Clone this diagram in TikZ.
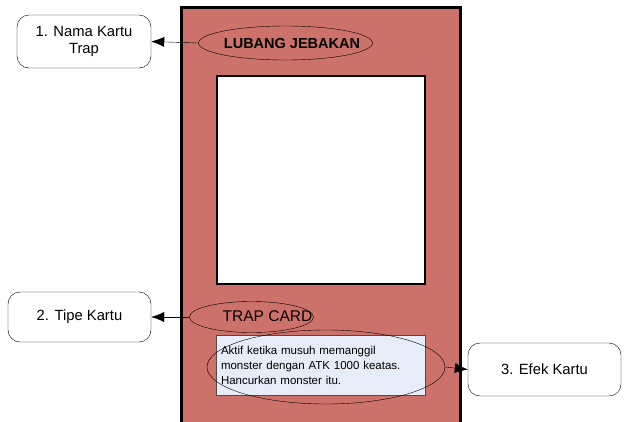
\documentclass[tikz,border=0pt]{standalone}
\usepackage{fontspec}
\setmainfont{Liberation Sans}
\usepackage{tikz}
\usetikzlibrary{arrows.meta, positioning, shapes.geometric}
\definecolor{cardred}{RGB}{205,114,106}
\definecolor{effbg}{RGB}{230,236,248}
\tikzstyle{label}  = [rectangle, rounded corners=12pt, draw, thin, fill=white,
                      align=center, font=\fontsize{14.8}{17}\selectfont]
\tikzstyle{oval}   = [ellipse, draw, thin, inner sep=0pt]
\tikzstyle{arr}    = [-{Latex[length=13pt, width=10pt]}, thin]

\begin{document}
\begin{tikzpicture}[x=1pt, y=-1pt]
    \useasboundingbox (0,0) rectangle (624,421);
    % kartu
    \draw[fill=cardred, line width=3pt] (181,7) rectangle (460,440);
    \draw[fill=white, line width=1.6pt] (217,76) rectangle (425,284);
    \node[rectangle, draw=black!70, fill=effbg, minimum width=209pt, minimum height=60pt,
          text width=199pt, inner sep=5pt, align=left, font=\fontsize{11.5}{15}\selectfont]
         (efek) at (320.5,365) {Aktif ketika musuh memanggil\\monster dengan ATK 1000 keatas.\\Hancurkan monster itu.};

    \node[oval, minimum width=174pt, minimum height=34pt] (nama) at (285.5,43) {};
    \node[font=\bfseries\fontsize{14.5}{16}\selectfont] (namatxt) at (292,44) {LUBANG JEBAKAN};
    \node[oval, minimum width=124pt, minimum height=31pt] (tipe) at (251.5,317) {};
    \node[font=\fontsize{15.5}{17}\selectfont] (tipetxt) at (267.5,316) {TRAP CARD};
    \node[oval, minimum width=238pt, minimum height=74pt] (efekoval) at (326,367) {};

    \node[label, minimum width=134pt, minimum height=53pt] (lnama) at (84,41.5) {1. Nama Kartu\\Trap};
    \node[label, minimum width=143pt, minimum height=50pt] (ltipe) at (79.5,317) {2. Tipe Kartu};
    \node[label, minimum width=153pt, minimum height=53pt] (lefek) at (544.5,369.5) {3. Efek Kartu};

    \draw[arr] (nama.west) -- (lnama.east);
    \draw[arr] (tipe.west) -- (ltipe.east);
    \draw[arr] (efekoval.east) -- (lefek.west);
  \end{tikzpicture}
\end{document}
